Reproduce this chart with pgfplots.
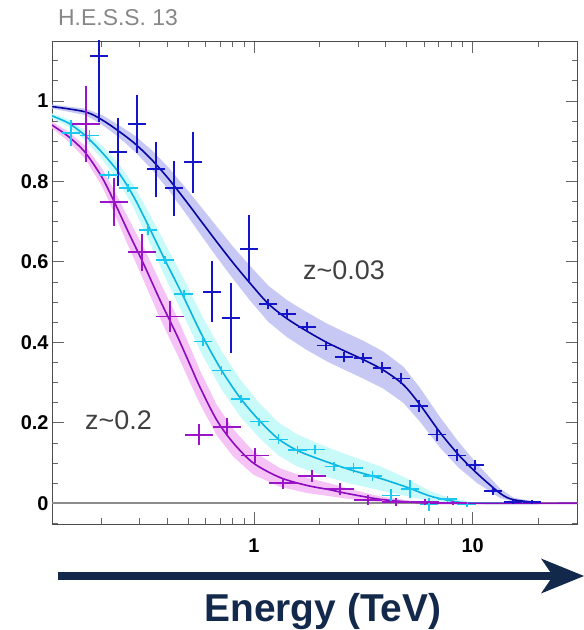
\documentclass[border=0pt]{standalone}
\usepackage{pgfplots}
\pgfplotsset{compat=1.18}
\usepackage{pgfplotstable}
\usepgfplotslibrary{fillbetween}
\usepackage{fontspec}
\setmainfont{Liberation Sans}
\definecolor{bpt}{RGB}{20,20,200}
\definecolor{bln}{RGB}{5,5,160}
\definecolor{bbd}{RGB}{200,200,245}
\definecolor{cpt}{RGB}{25,200,240}
\definecolor{cln}{RGB}{10,180,225}
\definecolor{cbd}{RGB}{200,250,250}
\definecolor{ppt}{RGB}{155,20,200}
\definecolor{pln}{RGB}{140,10,190}
\definecolor{pbd}{RGB}{245,195,245}
\definecolor{navy}{RGB}{19,41,75}

\pgfplotstableread{
x y lo hi
0.1192 0.986 0.981 0.991
0.169 0.973 0.965 0.981
0.2018 0.953 0.941 0.965
0.2405 0.925 0.910 0.940
0.2866 0.893 0.873 0.913
0.3418 0.853 0.829 0.877
0.4074 0.806 0.778 0.834
0.492 0.749 0.717 0.781
0.566 0.705 0.670 0.740
0.675 0.650 0.612 0.688
0.804 0.597 0.557 0.637
0.959 0.547 0.504 0.590
1.162 0.496 0.451 0.541
1.415 0.459 0.413 0.505
1.742 0.428 0.381 0.475
2.148 0.400 0.353 0.447
2.607 0.378 0.331 0.425
3.16 0.357 0.310 0.404
3.90 0.331 0.285 0.377
4.81 0.295 0.250 0.340
5.74 0.245 0.203 0.287
7.09 0.176 0.138 0.214
8.60 0.121 0.089 0.153
10.43 0.075 0.051 0.099
13.33 0.025 0.013 0.037
15.34 0.009 0.004 0.014
20.3 0.001 0.000 0.002
}\bluecurve

\pgfplotstableread{
x y lo hi
0.1192 0.963 0.957 0.969
0.1422 0.9445 0.9355 0.9535
0.169 0.914 0.902 0.926
0.2018 0.872 0.855 0.889
0.2405 0.822 0.800 0.844
0.2817 0.762 0.734 0.790
0.330 0.688 0.653 0.723
0.393 0.603 0.561 0.645
0.477 0.512 0.466 0.558
0.578 0.418 0.370 0.466
0.7115 0.330 0.282 0.378
0.8695 0.260 0.214 0.306
1.065 0.204 0.161 0.247
1.292 0.160 0.119 0.201
1.567 0.132 0.092 0.172
1.935 0.112 0.074 0.150
2.654 0.086 0.051 0.121
3.77 0.062 0.032 0.092
4.99 0.040 0.018 0.062
6.38 0.018 0.006 0.030
8.15 0.005 0.000 0.010
10.07 0.0005 -0.001 0.002
20 0 0 0
}\cyancurve

\pgfplotstableread{
x y lo hi
0.1192 0.940 0.932 0.948
0.1422 0.911 0.899 0.923
0.169 0.872 0.856 0.888
0.2018 0.810 0.788 0.832
0.2283 0.752 0.724 0.780
0.2674 0.672 0.637 0.707
0.3066 0.605 0.565 0.645
0.3345 0.560 0.517 0.603
0.3717 0.505 0.460 0.550
0.4138 0.452 0.406 0.498
0.4446 0.417 0.371 0.463
0.4786 0.378 0.333 0.423
0.5205 0.333 0.289 0.377
0.5666 0.288 0.246 0.330
0.675 0.207 0.169 0.245
0.804 0.150 0.116 0.184
0.9927 0.100 0.071 0.129
1.315 0.064 0.041 0.087
1.742 0.0445 0.0255 0.0635
2.226 0.0335 0.0175 0.0495
2.654 0.0245 0.0115 0.0375
3.77 0.010 0.003 0.017
5.35 0.0025 -0.0005 0.0055
7.6 0 -0.001 0.001
30 0 0 0
}\purplecurve

\pgfplotstableread{
x y ey exp exm
0.195 1.112 0.165 0.0194 0.0176
0.238 0.873 0.085 0.0237 0.0215
0.291 0.943 0.073 0.0290 0.0263
0.355 0.830 0.068 0.0353 0.0321
0.431 0.783 0.068 0.0429 0.0390
0.528 0.848 0.076 0.0525 0.0478
0.643 0.526 0.075 0.0640 0.0582
0.785 0.461 0.087 0.0781 0.0710
0.952 0.632 0.084 0.0947 0.0862
1.162 0.495 0.012 0.1156 0.1052
1.411 0.470 0.012 0.1404 0.1277
1.742 0.4375 0.012 0.1733 0.1577
2.135 0.392 0.012 0.2124 0.1932
2.587 0.364 0.012 0.2574 0.2341
3.141 0.361 0.012 0.3125 0.2843
3.836 0.337 0.013 0.3817 0.3472
4.716 0.310 0.013 0.4692 0.4268
5.68 0.242 0.015 0.5652 0.5140
6.89 0.171 0.015 0.6856 0.6235
8.45 0.119 0.015 0.8408 0.7647
10.24 0.095 0.013 1.0189 0.9267
12.42 0.031 0.010 1.2358 1.1240
15.3 0.004 0.005 1.5224 1.3847
18.6 0.003 0.004 1.8507 1.6833
}\bluepts

\pgfplotstableread{
x y ey exp exm
0.1456 0.921 0.032 0.0150 0.0135
0.177 0.914 0.015 0.0182 0.0165
0.216 0.816 0.011 0.0222 0.0201
0.266 0.783 0.010 0.0274 0.0247
0.3276 0.679 0.012 0.0337 0.0305
0.391 0.605 0.010 0.0403 0.0364
0.477 0.5195 0.010 0.0491 0.0444
0.583 0.402 0.010 0.0600 0.0542
0.7115 0.330 0.010 0.0733 0.0662
0.8695 0.2585 0.010 0.0896 0.0809
1.057 0.203 0.010 0.1089 0.0983
1.292 0.159 0.012 0.1331 0.1202
1.578 0.1325 0.010 0.1625 0.1468
1.906 0.134 0.012 0.1963 0.1773
2.322 0.091 0.012 0.2392 0.2159
2.845 0.087 0.012 0.2930 0.2646
3.475 0.0685 0.012 0.3579 0.3232
4.23 0.019 0.016 0.4357 0.3934
5.17 0.035 0.022 0.5325 0.4808
6.31 -0.003 0.017 0.6499 0.5868
7.67 0.010 0.008 0.7900 0.7133
9.39 -0.003 0.006 0.9672 0.8733
}\cyanpts

\pgfplotstableread{
x y ey exp exm
0.170 0.942 0.0945 0.0270 0.0233
0.229 0.748 0.060 0.0364 0.0314
0.3066 0.624 0.046 0.0487 0.0420
0.414 0.464 0.038 0.0658 0.0567
0.560 0.170 0.026 0.0890 0.0767
0.750 0.190 0.022 0.1193 0.1028
1.014 0.119 0.019 0.1612 0.1389
1.362 0.0497 0.014 0.2166 0.1866
1.847 0.0686 0.015 0.2937 0.2530
2.465 0.035 0.015 0.3919 0.3377
3.32 0.008 0.012 0.5279 0.4548
4.46 0.003 0.010 0.7091 0.6110
6.05 0.003 0.008 0.9620 0.8289
8.10 0.001 0.005 1.2879 1.1097
}\purplepts

\begin{document}
\begin{tikzpicture}
\begin{axis}[
  at={(52bp,106bp)}, anchor=south west,
  width=525.7bp, height=483bp, scale only axis,
  xmode=log, xmin=0.1192, xmax=30.2,
  ymin=-0.0515, ymax=1.149,
  axis line style={draw=black!70, line width=0.8bp},
  tick align=inside,
  major tick length=12bp, minor tick length=6bp,
  tick style={draw=black!60, line width=0.8bp},
  xtick={1,10}, xticklabels={1,10},
  minor xtick={0.2,0.3,0.4,0.5,0.6,0.7,0.8,0.9,2,3,4,5,6,7,8,9,20,30},
  ytick={0,0.2,0.4,0.6,0.8,1},
  yticklabels={0,0.2,0.4,0.6,0.8,1},
  minor ytick={-0.05,0.05,0.1,0.15,0.25,0.3,0.35,0.45,0.5,0.55,0.65,0.7,0.75,0.85,0.9,0.95,1.05,1.1},
  ticklabel style={font=\fontsize{20}{20}\selectfont\bfseries, text=black},
  xticklabel style={yshift=-11bp},
  /pgf/number format/assume math mode=true,
]
% bands
\addplot[name path=bu, draw=none] table[x=x,y=hi]{\bluecurve};
\addplot[name path=bl, draw=none] table[x=x,y=lo]{\bluecurve};
\addplot[fill=bbd, draw=none] fill between[of=bu and bl];
\addplot[name path=cu, draw=none] table[x=x,y=hi]{\cyancurve};
\addplot[name path=cl, draw=none] table[x=x,y=lo]{\cyancurve};
\addplot[fill=cbd, draw=none] fill between[of=cu and cl];
\addplot[name path=pu, draw=none] table[x=x,y=hi]{\purplecurve};
\addplot[name path=pl, draw=none] table[x=x,y=lo]{\purplecurve};
\addplot[fill=pbd, draw=none] fill between[of=pu and pl];
% zero line
\addplot[draw=black!45, line width=1.6bp] coordinates {(0.1192,0) (30.2,0)};
% curves
\addplot[bln, line width=1.6bp, smooth] table[x=x,y=y]{\bluecurve};
\addplot[cln, line width=1.6bp, smooth] table[x=x,y=y]{\cyancurve};
\addplot[pln, line width=1.6bp, smooth] table[x=x,y=y]{\purplecurve};
% points
\addplot[draw=none, mark=none,
  error bars/.cd, x dir=both, x explicit, y dir=both, y explicit,
  error mark=none, error bar style={draw=bpt, line width=1.8bp}]
  table[x=x, y=y, x error plus=exp, x error minus=exm, y error=ey]{\bluepts};
\addplot[draw=none, mark=none,
  error bars/.cd, x dir=both, x explicit, y dir=both, y explicit,
  error mark=none, error bar style={draw=cpt, line width=1.6bp}]
  table[x=x, y=y, x error plus=exp, x error minus=exm, y error=ey]{\cyanpts};
\addplot[draw=none, mark=none,
  error bars/.cd, x dir=both, x explicit, y dir=both, y explicit,
  error mark=none, error bar style={draw=ppt, line width=1.8bp}]
  table[x=x, y=y, x error plus=exp, x error minus=exm, y error=ey]{\purplepts};
\node[anchor=west, text=black!75, font=\fontsize{27}{27}\selectfont, inner sep=0pt] at (axis cs:1.675,0.58) {z\textasciitilde 0.03};
\node[anchor=west, text=black!75, font=\fontsize{27}{27}\selectfont, inner sep=0pt] at (axis cs:0.1688,0.207) {z\textasciitilde 0.2};
\end{axis}
\node[anchor=west, text=black!47, font=\fontsize{23}{23}\selectfont, inner sep=0pt] at (58bp,612bp) {H.E.S.S. 13};
\draw[navy, line width=8.3bp] (58bp,54bp) -- (556bp,54bp);
\fill[navy] (584bp,54bp) -- (541bp,71.5bp) -- (553bp,54bp) -- (541bp,36.5bp) -- cycle;
\node[anchor=base, text=navy, font=\fontsize{39}{39}\selectfont\bfseries, inner sep=0pt] at (323bp,8.3bp) {Energy (TeV)};
\pgfresetboundingbox
\path (0bp,0bp) rectangle (584bp,630bp);
\end{tikzpicture}
\end{document}
